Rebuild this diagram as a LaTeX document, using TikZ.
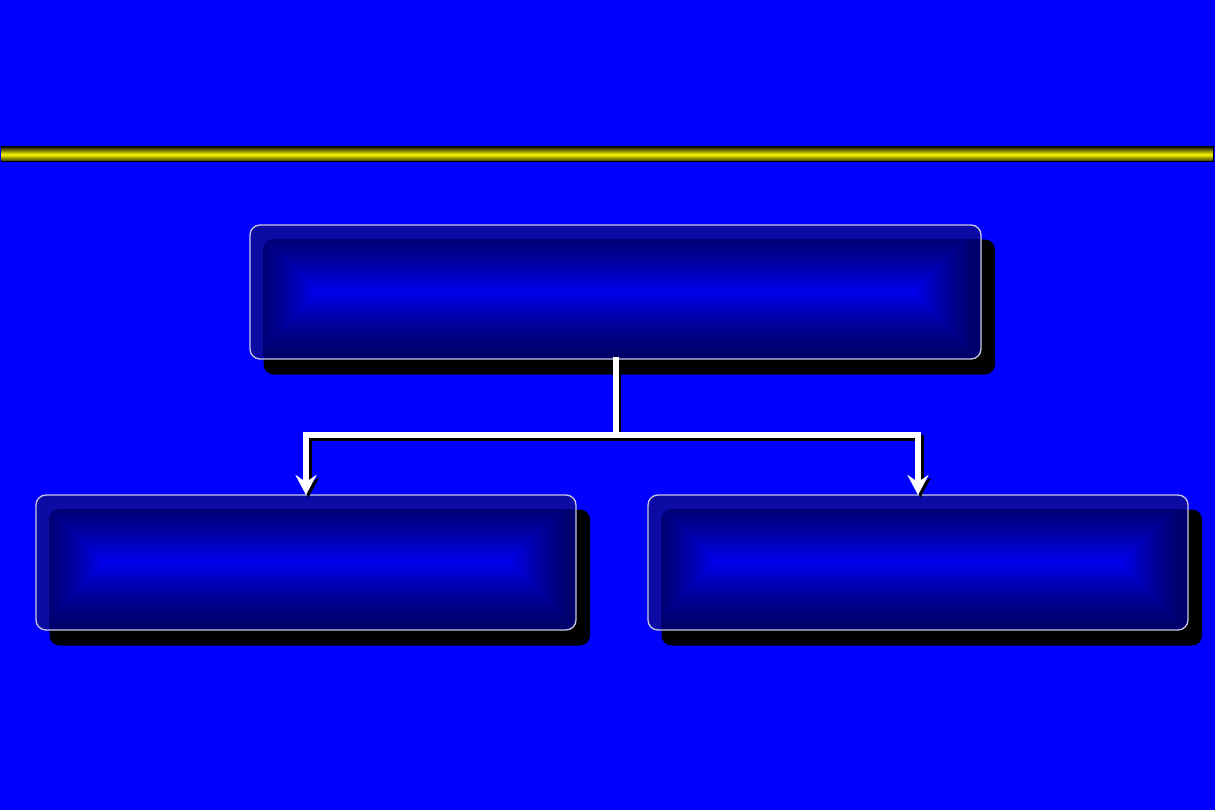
\documentclass[tikz,border=0pt]{standalone}
\usetikzlibrary{arrows.meta}
\definecolor{bg}{RGB}{0,0,255}
\definecolor{strip}{RGB}{12,12,165}
\definecolor{navy}{RGB}{0,0,105}
\definecolor{brite}{RGB}{0,0,240}
\definecolor{rim}{RGB}{200,200,228}
\definecolor{ydark}{RGB}{55,55,0}
\definecolor{ybright}{RGB}{250,250,0}
\tikzset{
  boxnode/.style={inner sep=0pt, outer sep=0pt},
  wire/.style={draw=white, line width=6pt, -{Stealth[length=20pt,width=21pt,inset=7pt]}},
  wireshadow/.style={draw=black, line width=6pt, -{Stealth[length=20pt,width=21pt,inset=7pt]}},
}
\newcommand\gradbox[5]{%
  \fill[black, rounded corners=10pt] (#2+13.5,#3+14.5) rectangle (#4+14,#5+15.5);
  \fill[strip, rounded corners=10pt] (#2,#3) rectangle (#4,#5);
  \begin{scope}
    \clip[rounded corners=10pt] (#2,#3) rectangle (#4,#5);
    \clip[rounded corners=10pt] (#2+13.5,#3+14.5) rectangle (#4+14,#5+15.5);
    \pgfmathsetmacro\hh{(#5-#3)/2}
    \foreach \i in {0,...,45}{
      \pgfmathsetmacro\dd{\hh*\i/45}
      \pgfmathsetmacro\pp{100*(\i/45)^1.4}
      \fill[brite!\pp!navy] (#2+\dd,#3+\dd) rectangle (#4-\dd,#5-\dd);
    }
  \end{scope}
  \draw[rim, line width=1.3pt, rounded corners=10pt] (#2,#3) rectangle (#4,#5);
  \node[boxnode, minimum width={#4pt-#2pt}, minimum height={#5pt-#3pt}] (#1) at ({(#2+#4)/2},{(#3+#5)/2}) {};
}
\begin{document}
\begin{tikzpicture}[x=1pt,y=-1pt]
  \useasboundingbox (0,0) rectangle (1215,810);
  \fill[bg] (0,0) rectangle (1215,810);
  % yellow rule
  \fill[black] (0.5,146.5) rectangle (1213.5,162.5);
  \shade[top color=ydark, bottom color=ydark, middle color=ybright] (1.5,148) rectangle (1212.5,161);
  % boxes
  \gradbox{top}{250}{225}{981}{359}
  \gradbox{left}{36}{495}{576}{630}
  \gradbox{right}{648}{495}{1188}{630}
  \coordinate (junc) at (615.5,435);
  % connector shadows
  \draw[wireshadow] ([xshift=2.5pt,yshift=-2.5pt]top.south) -- ([xshift=2.5pt,yshift=-2.5pt]junc) -| ([xshift=2.5pt,yshift=-2.5pt]left.north);
  \draw[wireshadow] ([xshift=2.5pt,yshift=-2.5pt]junc) -| ([xshift=2.5pt,yshift=-2.5pt]right.north);
  % connectors
  \draw[wire] ([yshift=2pt]top.south) -- (junc) -| (left.north);
  \draw[wire] (junc) -| (right.north);
\end{tikzpicture}
\end{document}
